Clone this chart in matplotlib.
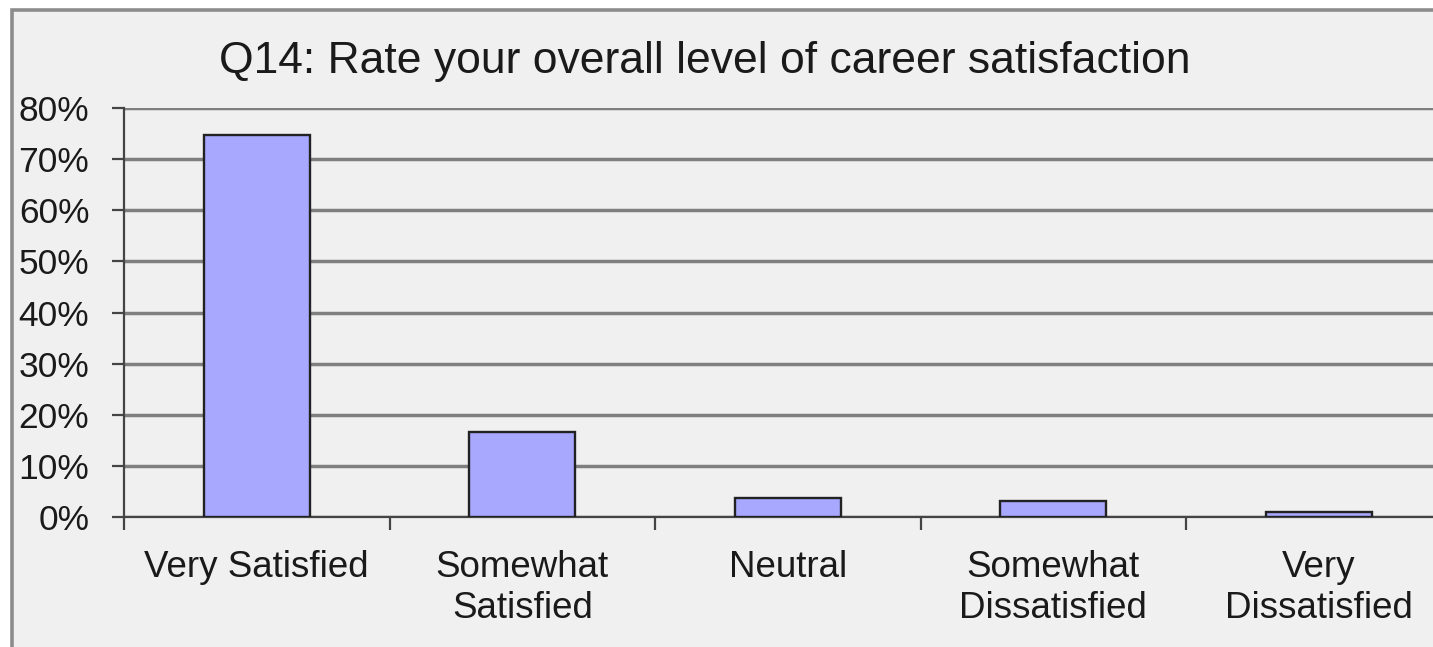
import matplotlib
matplotlib.use("Agg")
import matplotlib.pyplot as plt
from matplotlib.patches import Rectangle
from matplotlib.ticker import FixedLocator, FuncFormatter

categories = ["Very Satisfied", "Somewhat\nSatisfied", "Neutral", "Somewhat\nDissatisfied", "Very\nDissatisfied"]
values = [74.8, 16.6, 3.7, 3.2, 1.0]
yticks = [0, 10, 20, 30, 40, 50, 60, 70, 80]
title = "Q14: Rate your overall level of career satisfaction"

plt.rcParams['font.family'] = ['Liberation Sans', 'DejaVu Sans']

W, H = 1433, 647
fig = plt.figure(figsize=(W / 100, H / 100), dpi=100)
fig.patch.set_facecolor("white")

# chart area background and border
bg = Rectangle((11.5 / W, -0.1), 1.2, 1 - 9.5 / H + 0.1, transform=fig.transFigure,
               facecolor="#f0f0f0", edgecolor="#8c8c8c", linewidth=2.6, zorder=-5)
fig.add_artist(bg)

ax = fig.add_axes([124 / W, 1 - 517 / H, (1451.5 - 124) / W, (517 - 108) / H])
ax.set_zorder(2)
ax.set_facecolor("none")

x = list(range(len(categories)))
ax.bar(x, values, width=0.4, color="#a8a8ff", edgecolor="#222222", linewidth=1.7, zorder=3)

ax.set_xlim(-0.5, len(categories) - 0.5)
ax.set_ylim(0, 80)
ax.yaxis.set_major_locator(FixedLocator(yticks))
ax.yaxis.set_major_formatter(FuncFormatter(lambda v, p: f"{int(v)}%"))
ax.grid(axis="y", color="#7f7f7f", linewidth=2.5, zorder=1)
ax.set_axisbelow(True)

ax.set_xticks(x)
ax.set_xticklabels(categories, linespacing=1.2)
ax.set_xticks([i - 0.5 for i in range(len(categories) + 1)], minor=True)
ax.tick_params(axis="x", which="major", length=0, pad=24, labelsize=26.5, colors="#1a1a1a")
ax.tick_params(axis="x", which="minor", length=9, width=1.6, direction="out", color="#444444")
ax.tick_params(axis="y", length=9, width=1.6, direction="out", pad=16, labelsize=25.5,
               colors="#1a1a1a")
ax.tick_params(axis="y", color="#444444")

for s in ["top", "right"]:
    ax.spines[s].set_visible(False)
ax.spines["left"].set_color("#444444")
ax.spines["left"].set_linewidth(1.6)
ax.spines["bottom"].set_color("#444444")
ax.spines["bottom"].set_linewidth(1.6)

fig.text(705 / W, 1 - 61 / H, title, ha="center", va="center", fontsize=32, color="#1a1a1a")

fig.savefig("out.png", dpi=100, facecolor="white")
